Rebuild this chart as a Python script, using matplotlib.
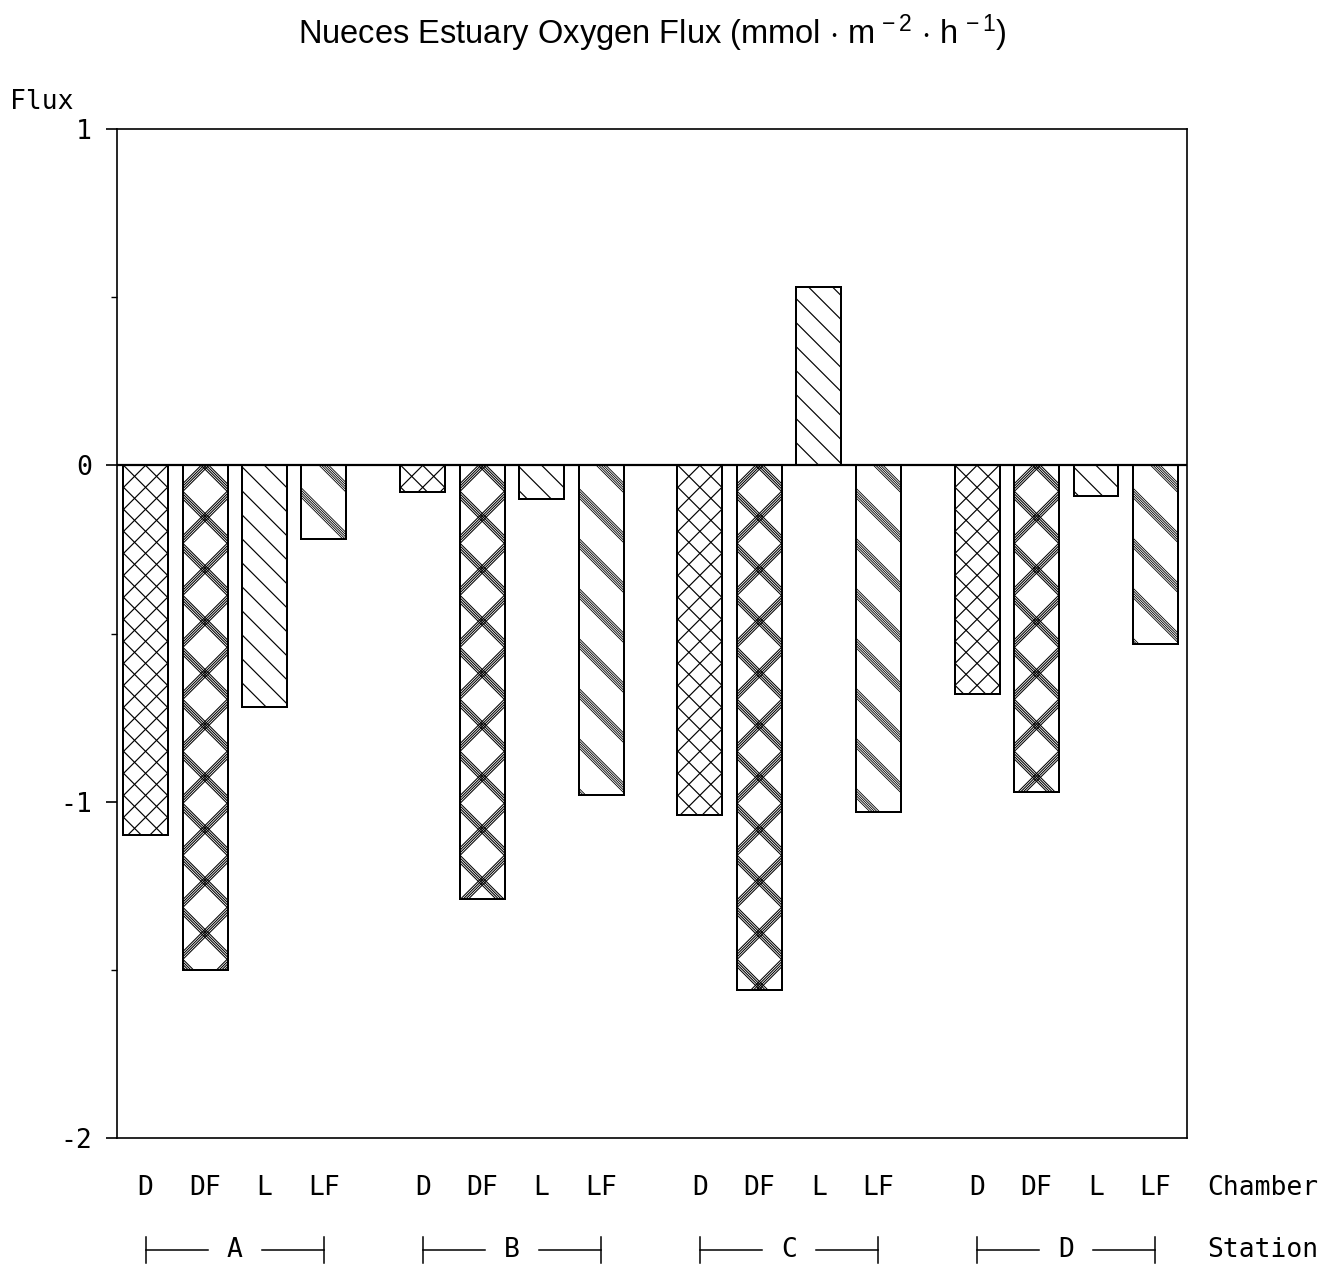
import numpy as np
import matplotlib
matplotlib.use("Agg")
import matplotlib.pyplot as plt
from matplotlib.collections import LineCollection
from matplotlib.transforms import IdentityTransform, blended_transform_factory

# ---- data -------------------------------------------------------------
stations = ["A", "B", "C", "D"]
chambers = ["D", "DF", "L", "LF"]
flux_A = [-1.10, -1.50, -0.72, -0.22]
flux_B = [-0.08, -1.29, -0.10, -0.98]
flux_C = [-1.04, -1.56, 0.53, -1.03]
flux_D = [-0.68, -0.97, -0.09, -0.53]
flux_by_station = [flux_A, flux_B, flux_C, flux_D]
yticks = [-2, -1, 0, 1]
ytick_labels = ["-2", "-1", "0", "1"]

title = r"Nueces Estuary Oxygen Flux (mmol $\cdot$ m$^{\,-2}$ $\cdot$ h$^{\,-1}$)"

# ---- figure -----------------------------------------------------------
W, H, DPI = 1335, 1268, 100
sans = "Liberation Sans"
plt.rcParams["mathtext.fontset"] = "custom"
plt.rcParams["mathtext.rm"] = sans
plt.rcParams["mathtext.it"] = sans
mono = "DejaVu Sans Mono"

fig = plt.figure(figsize=(W / DPI, H / DPI), dpi=DPI)
fig.patch.set_facecolor("white")
ax = fig.add_axes([117 / W, 130 / H, 1070 / W, 1009 / H])

group_step = 4.66
bar_w = 0.756
ax.set_xlim(-0.48, 3 * group_step + 3 + 0.53)
ax.set_ylim(-2, 1)

# hatch styles drawn as families of 45-degree lines in pixel space
# (direction +1 -> '/', -1 -> '\\'), anchored at each bar's base centre
band4 = [-3.9, -1.3, 1.3, 3.9]
band5 = [-4.8, -2.4, 0, 2.4, 4.8]
hatch_styles = {
    "D": [(+1, 22, [0], 0.85), (-1, 22, [0], 0.85)],
    "DF": [(+1, 52, band4, 0.75), (-1, 52, band4, 0.75)],
    "L": [(-1, 24, [0], 0.85)],
    "LF": [(-1, 50, band5, 0.6)],
}


def line_family(direction, period, offsets, anchor):
    px, py = anchor
    c0 = py - px if direction > 0 else py + px
    segs = []
    span = W + H
    for k in range(-int(span / period) - 2, int(span / period) + 3):
        for off in offsets:
            c = c0 + k * period + off
            segs.append([(px - H, direction * (px - H) + c),
                         (px + H, direction * (px + H) + c)])
    return segs


centers = []
for gi, (st, vals) in enumerate(zip(stations, flux_by_station)):
    xs = gi * group_step + np.arange(len(chambers))
    centers.append(xs)
    bars = ax.bar(xs, vals, width=bar_w, color="white", edgecolor="black",
                  linewidth=1.4, zorder=2)
    for ch, x, bar in zip(chambers, xs, bars):
        anchor = ax.transData.transform((x, 0))
        for direction, period, offsets, lw in hatch_styles[ch]:
            lc = LineCollection(line_family(direction, period, offsets, anchor),
                                colors="black", linewidths=lw,
                                transform=IdentityTransform(), zorder=3)
            fig.add_artist(lc)
            lc.set_clip_path(bar)
        # outline drawn again above the hatch
        ax.bar(x, bar.get_height(), width=bar_w, fill=False,
               edgecolor="black", linewidth=1.4, zorder=4)

ax.axhline(0, color="black", linewidth=1.6, zorder=5)

ax.set_yticks(yticks)
ax.set_yticklabels(ytick_labels, fontfamily=mono, fontsize=19)
ax.set_yticks(np.arange(-2, 1.01, 0.5), minor=True)
ax.tick_params(axis="y", which="major", direction="out", length=8, width=1.2,
               pad=10)
ax.tick_params(axis="y", which="minor", direction="out", length=4, width=1.0)
ax.set_xticks([])
for sp in ax.spines.values():
    sp.set_linewidth(1.2)
    sp.set_color("black")

# titles and axis captions
fig.text(652 / W, 1 - 33 / H, title, ha="center", va="center",
         fontsize=23.5, fontfamily=sans)
fig.text(10 / W, 1 - 102 / H, "Flux", ha="left", va="center",
         fontfamily=mono, fontsize=19)

# chamber labels and station brackets beneath the axis
trans = blended_transform_factory(ax.transData, fig.transFigure)
y_ch = 1 - 1188 / H
y_st = 1 - 1250 / H
for st, xs in zip(stations, centers):
    for ch, x in zip(chambers, xs):
        fig.text(0, 0, ch, transform=trans, fontfamily=mono, fontsize=19,
                 ha="center", va="center").set_position((x, y_ch))
    left, right = xs[0], xs[-1]
    mid = (left + right) / 2
    half_gap = 0.45
    kw = dict(color="black", linewidth=1.1, transform=trans, clip_on=False)
    ax.plot([left, mid - half_gap], [y_st, y_st], **kw)
    ax.plot([mid + half_gap, right], [y_st, y_st], **kw)
    ax.plot([left, left], [y_st - 13 / H, y_st + 13 / H], **kw)
    ax.plot([right, right], [y_st - 13 / H, y_st + 13 / H], **kw)
    fig.text(0, 0, st, transform=trans, fontfamily=mono, fontsize=19,
             ha="center", va="center").set_position((mid, y_st))

fig.text(1207 / W, y_ch, "Chamber", ha="left", va="center",
         fontfamily=mono, fontsize=19)
fig.text(1207 / W, y_st, "Station", ha="left", va="center",
         fontfamily=mono, fontsize=19)

fig.savefig("out.png", dpi=DPI, facecolor="white")
